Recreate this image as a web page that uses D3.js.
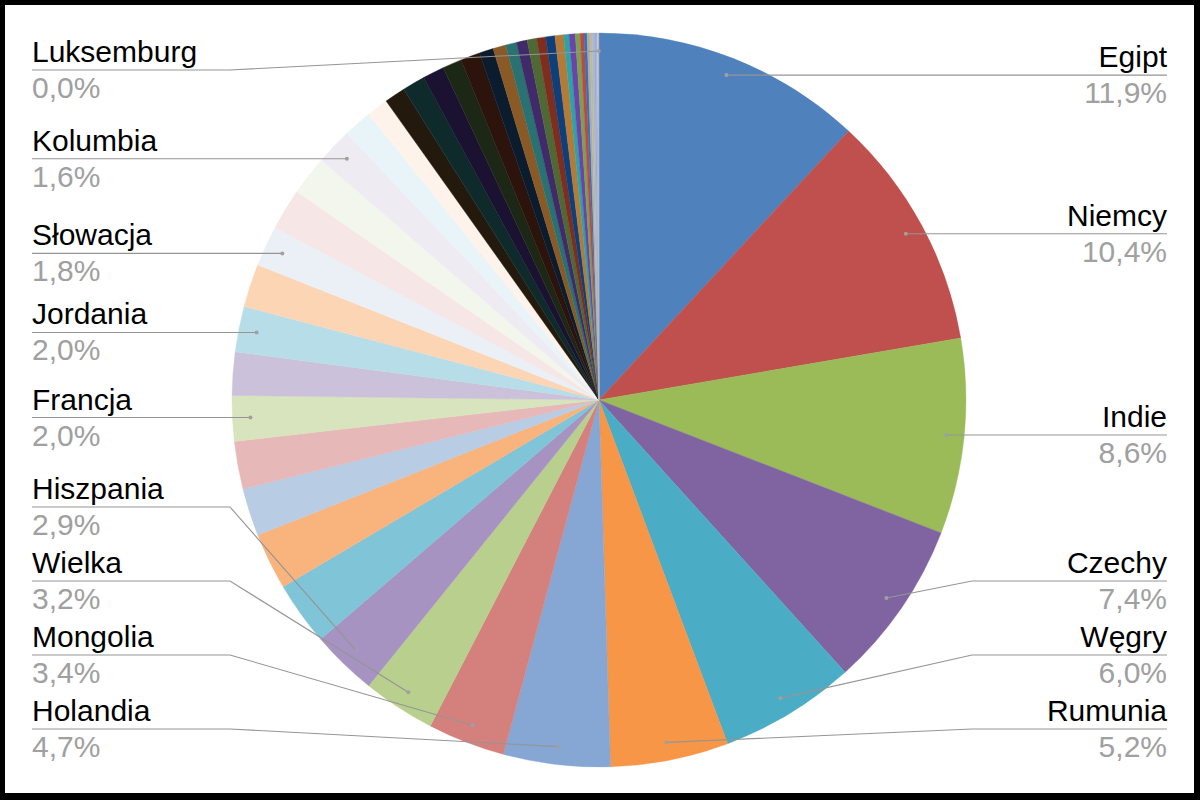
<!DOCTYPE html>
<html><head><meta charset="utf-8">
<script src="https://cdn.jsdelivr.net/npm/d3@7"></script>
<style>html,body{margin:0;padding:0;background:#fff;overflow:hidden}</style>
</head><body><svg id="c" width="1200" height="800"></svg>
<script>
// ---- data ----
const categories = [
  "Egipt","Niemcy","Indie","Czechy","Węgry","Rumunia","Holandia","Mongolia","Wielka","Hiszpania",
  "","","","","Francja","","Jordania","","Słowacja","","","Kolumbia",
  "","","","","","","","","","","","","","","","","","","","",
  "","","","","","","Luksemburg"
];
const values = [
  11.9,10.4,8.6,7.4,6.0,5.2,4.7,3.4,3.2,2.9,
  2.8,2.5,2.1,2.1,2.0,1.9,2.0,1.9,1.8,1.8,1.75,1.6,
  1.25,0.95,0.92,1.0,0.95,0.85,0.85,0.62,0.57,0.48,0.47,0.42,0.4,0.4,0.38,0.24,0.27,0.21,0.17,0.13,
  0.12,0.1,0.09,0.08,0.07,0.04,0.02
];
const palette = [
  "#4F81BD","#C0504D","#9BBB59","#8064A2","#4BACC6","#F79646",
  "#86A7D4","#D4807D","#B9CF8D","#A693C2","#7FC4D7","#F9B47E",
  "#B8CCE4","#E6B9B8","#D7E4BD","#CCC1DA","#B7DEE8","#FCD5B5",
  "#EBF0F7","#F6E6E6","#F3F6EC","#EEEBF3","#E9F4F8","#FEF3EA",
  "#23190C","#0E2A2A","#1B1131","#1D2716","#2C140C","#0B1C2E",
  "#8A5A26","#2A7272","#412A69","#4E6934","#7E2E1F","#0E3F7A",
  "#B57A36","#2EA3A5","#6A45A8","#7E9E50","#BD4A3F","#3D6DB5",
  "#9FB1AD","#C9B593","#A9B9CC","#93B2DA","#B4A8D3","#CFCFCF","#B0B0B0"
];

// ---- layout ----
const W = 1200, H = 800;
const cx = 599, cy = 400, R = 367, dotR = 349;
const rightTextX = 1167, leftTextX = 32;
const rightElbowX = 972, leftElbowX = 230;
const spacing = 74, minY = 70, maxY = 729;
const fontFamily = "'Liberation Sans', Arial, sans-serif";

const svg = d3.select("#c");
svg.append("rect").attr("width", W).attr("height", H).attr("fill", "#000");
svg.append("rect").attr("x", 5).attr("y", 5).attr("width", 1189).attr("height", 788).attr("fill", "#fff");

const data = categories.map((c, i) => ({name: c, v: values[i], color: palette[i]}));
const total = d3.sum(values);
const pie = d3.pie().sort(null).value(d => d.v);
const arcs = pie(data);
const arc = d3.arc().innerRadius(0).outerRadius(R);
const dotArc = d3.arc().innerRadius(dotR).outerRadius(dotR);

const g = svg.append("g").attr("transform", `translate(${cx},${cy})`);
g.selectAll("path.slice").data(arcs).join("path")
  .attr("class", "slice")
  .attr("d", arc)
  .attr("fill", d => d.data.color)
  .attr("stroke", d => d.data.color)
  .attr("stroke-width", 0.4);

const fmt = v => d3.format(".1f")(v).replace(".", ",") + "%";

// labels
const labeled = arcs.filter(d => d.data.name !== "").map(d => {
  const [dx, dy] = dotArc.centroid(d);
  const mid = (d.startAngle + d.endAngle) / 2;
  return {d, x: cx + dx, y: cy + dy, side: Math.sin(mid) >= 0 ? "right" : "left", ly: cy + dy};
});

function resolve(list) {
  list.sort((a, b) => a.y - b.y);
  let next = maxY;
  for (let i = list.length - 1; i >= 0; i--) {
    list[i].ly = Math.min(list[i].y, next);
    next = list[i].ly - spacing;
  }
  let prev = -Infinity;
  for (const l of list) {
    l.ly = Math.max(l.ly, minY, prev + spacing);
    prev = l.ly;
  }
}
resolve(labeled.filter(l => l.side === "right"));
resolve(labeled.filter(l => l.side === "left"));

const lg = svg.append("g");
labeled.forEach(l => {
  const right = l.side === "right";
  const textX = right ? rightTextX : leftTextX;
  const elbowX = right ? rightElbowX : leftElbowX;
  let pts;
  if (Math.abs(l.ly - l.y) < 3) {
    pts = [[l.x, l.y], [textX, l.y]];
  } else {
    pts = [[l.x, l.y], [elbowX, l.ly], [textX, l.ly]];
  }
  lg.append("path")
    .attr("d", d3.line()(pts))
    .attr("fill", "none")
    .attr("stroke", "#959595")
    .attr("stroke-width", 1.1);
  lg.append("circle").attr("cx", l.x).attr("cy", l.y).attr("r", 2).attr("fill", "#A0A0A0");
  lg.append("text")
    .attr("x", textX).attr("y", l.ly - 8)
    .attr("text-anchor", right ? "end" : "start")
    .attr("font-family", fontFamily).attr("font-size", 30)
    .attr("fill", "#000")
    .text(l.d.data.name);
  lg.append("text")
    .attr("x", textX).attr("y", l.ly + 28)
    .attr("text-anchor", right ? "end" : "start")
    .attr("font-family", fontFamily).attr("font-size", 30)
    .attr("fill", "#A0A0A0")
    .text(fmt(l.d.data.v / total * 100));
});
</script>
</body></html>
